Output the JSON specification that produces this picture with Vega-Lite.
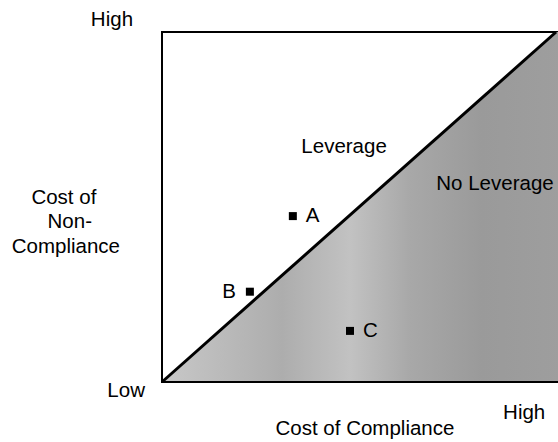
{
  "$schema": "https://vega.github.io/schema/vega-lite/v6.json",
  "autosize": "none",
  "width": 400,
  "height": 350,
  "padding": {"left": 162, "top": 32, "right": 0, "bottom": 60},
  "background": "white",
  "view": {"stroke": "black", "strokeWidth": 2},
  "config": {"font": "Liberation Sans", "text": {"font": "Liberation Sans", "fontSize": 20.5, "color": "black"}},
  "datasets": {
    "region": [
      {"cost": 0, "noncost": 0},
      {"cost": 100, "noncost": 100},
      {"cost": 101.5, "noncost": 100}
    ],
    "diag": [
      {"cost": 0, "noncost": 0},
      {"cost": 100, "noncost": 100}
    ],
    "base": [
      {"cost": 0, "cost2": 101.5, "noncost": 0}
    ],
    "firms": [
      {"firm": "A", "cost": 33.2, "noncost": 47.4},
      {"firm": "B", "cost": 22.3, "noncost": 25.8},
      {"firm": "C", "cost": 47.7, "noncost": 14.6}
    ],
    "labels": [
      {"text": "High", "cost": -12.7, "noncost": 101.7},
      {"text": "Low", "cost": -9.1, "noncost": -4.3},
      {"text": "Cost of", "cost": -24.9, "noncost": 50.9},
      {"text": "Non-", "cost": -23.4, "noncost": 44},
      {"text": "Compliance", "cost": -24.4, "noncost": 36.9},
      {"text": "Leverage", "cost": 46.2, "noncost": 65.4},
      {"text": "No Leverage", "cost": 84.5, "noncost": 54.9},
      {"text": "High", "cost": 91.9, "noncost": -10.5},
      {"text": "Cost of Compliance", "cost": 51.5, "noncost": -15.1}
    ]
  },
  "encoding": {
    "x": {"field": "cost", "type": "quantitative", "scale": {"domain": [0, 101.5], "nice": false, "zero": false}, "axis": null},
    "y": {"field": "noncost", "type": "quantitative", "scale": {"domain": [0, 100], "nice": false, "zero": false}, "axis": null}
  },
  "layer": [
    {
      "data": {"name": "region"},
      "mark": {
        "type": "area",
        "fill": {
          "gradient": "linear",
          "stops": [
            {"offset": 0, "color": "#c8c8c8"},
            {"offset": 0.3, "color": "#adadad"},
            {"offset": 0.47, "color": "#c2c2c2"},
            {"offset": 0.62, "color": "#a8a8a8"},
            {"offset": 0.8, "color": "#9a9a9a"},
            {"offset": 1, "color": "#9e9e9e"}
          ]
        },
        "stroke": null
      }
    },
    {
      "data": {"name": "base"},
      "mark": {"type": "rule", "color": "black", "strokeWidth": 2},
      "encoding": {"x2": {"field": "cost2"}}
    },
    {
      "data": {"name": "diag"},
      "mark": {"type": "line", "color": "black", "strokeWidth": 3}
    },
    {
      "data": {"name": "firms"},
      "mark": {"type": "square", "filled": true, "color": "black", "size": 64, "opacity": 1}
    },
    {
      "data": {"name": "firms"},
      "transform": [{"filter": "datum.firm !== 'B'"}],
      "mark": {"type": "text", "align": "left", "baseline": "middle", "dx": 13},
      "encoding": {"text": {"field": "firm"}}
    },
    {
      "data": {"name": "firms"},
      "transform": [{"filter": "datum.firm === 'B'"}],
      "mark": {"type": "text", "align": "right", "baseline": "middle", "dx": -14},
      "encoding": {"text": {"field": "firm"}}
    },
    {
      "data": {"name": "labels"},
      "mark": {"type": "text", "align": "center", "baseline": "alphabetic"},
      "encoding": {"text": {"field": "text"}}
    }
  ]
}
